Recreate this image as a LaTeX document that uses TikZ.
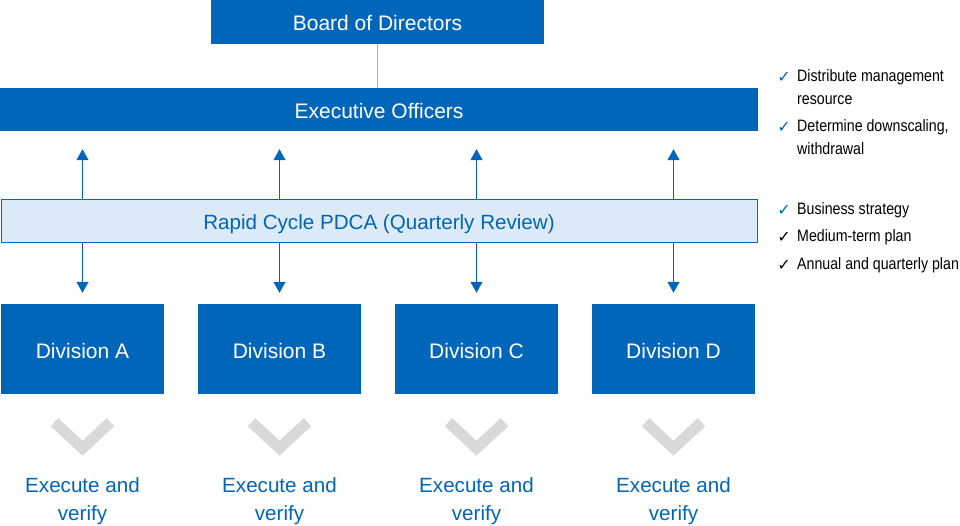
\documentclass[tikz,border=0pt]{standalone}
\usepackage{fontspec}
\setmainfont{Liberation Sans}
\newfontfamily\notefont[FakeStretch=0.86]{Liberation Sans}
\newfontfamily\symfont{DejaVu Sans}
\usetikzlibrary{arrows.meta,positioning}
\definecolor{corpblue}{RGB}{0,102,186}
\definecolor{paleblue}{RGB}{220,233,246}
\definecolor{chevgray}{RGB}{217,217,217}
\tikzset{
  boxblue/.style={fill=corpblue, text=white, draw=none, inner sep=0pt,
    text height=20pt, text depth=3pt, font=\fontsize{21}{25}\selectfont},
  cyclebox/.style={fill=paleblue, draw=corpblue, line width=1pt, text=corpblue, inner sep=0pt,
    text height=20pt, text depth=3pt, font=\fontsize{20.6}{25}\selectfont},
  divbox/.style={boxblue, minimum width=163pt, minimum height=90pt, text height=21pt},
  execlabel/.style={text=corpblue, align=center, font=\fontsize{20.6}{28}\selectfont},
  arr/.style={-{Triangle[length=11pt,width=12pt]}, corpblue, line width=1.1pt},
  chev/.style={chevgray, line width=11pt},
  tick/.style={inner sep=0pt, font=\symfont\fontsize{16}{23}\selectfont},
  note/.style={inner sep=0pt, align=left, anchor=north west,
    font=\notefont\fontsize{16.5}{23.5}\selectfont}
}

\begin{document}
\begin{tikzpicture}[x=1pt, y=-1pt]
  \useasboundingbox (0,0) rectangle (960,525);

  \node[boxblue, minimum width=333pt, minimum height=44pt] (board) at (377.5,22) {Board of Directors};
  \node[boxblue, minimum width=758pt, minimum height=43pt] (exec) at (379,109.5) {Executive Officers};
  \draw[black!33, line width=1.2pt] (board.south) -- (board.south |- exec.north);

  \node[cyclebox, minimum width=756pt, minimum height=43pt] (pdca) at (379,220.5) {Rapid Cycle PDCA (Quarterly Review)};

  \node[divbox] (divA) at (82.5,349) {Division A};
  \node[divbox] (divB) at (279.5,349) {Division B};
  \node[divbox] (divC) at (476.5,349) {Division C};
  \node[divbox] (divD) at (673.5,349) {Division D};

  % arrows between the review band and the boxes
  \foreach \d in {divA,divB,divC,divD}{
    \draw[arr, shorten >=18pt] (pdca.north -| \d.north) -- (exec.south -| \d.north);
    \draw[arr, shorten >=11pt] (pdca.south -| \d.north) -- (\d.north);
  }

  % chevrons and labels
  \foreach \d/\n in {divA/A,divB/B,divC/C,divD/D}{
    \draw[chev] ([xshift=-28pt, yshift=-28pt]\d.south) -- ([yshift=-54pt]\d.south)
      -- ([xshift=28pt, yshift=-28pt]\d.south);
    \node[execlabel, below=80pt of \d.south] (ex\n) {Execute and\\verify};
  }

  % notes on the right
  \node[tick, text=corpblue] (t1) at (784,77) {✓};
  \node[note] (n1) at (797,69) {Distribute management\\resource};
  \node[tick, text=corpblue] (t2) at (784,127) {✓};
  \node[note] (n2) at (797,119) {Determine downscaling,\\withdrawal};
  \node[tick, text=corpblue] (t3) at (784,210) {✓};
  \node[note] (n3) at (797,202) {Business strategy};
  \node[tick] (t4) at (784,237) {✓};
  \node[note] (n4) at (797,229) {Medium-term plan};
  \node[tick] (t5) at (784,265) {✓};
  \node[note] (n5) at (797,257) {Annual and quarterly plan};
\end{tikzpicture}
\end{document}
